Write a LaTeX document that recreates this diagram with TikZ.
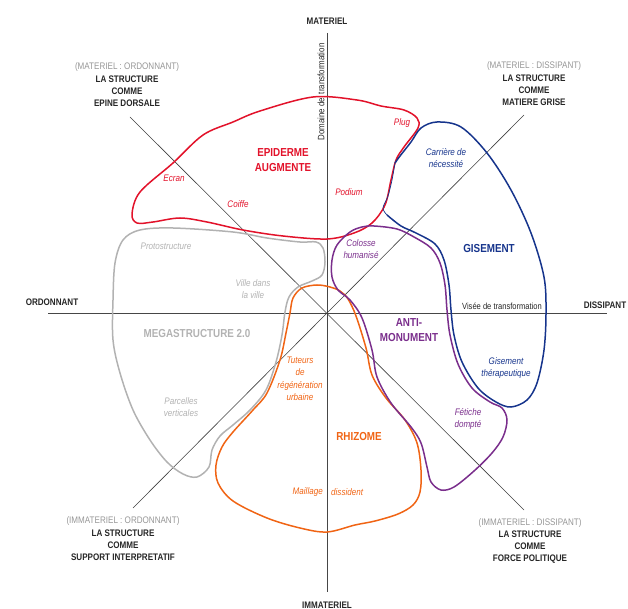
\documentclass[tikz,border=0pt]{standalone}
\usepackage{fontspec}
\setmainfont{Liberation Sans}[FakeStretch=0.85]
\definecolor{cred}{RGB}{226,18,42}
\definecolor{cblue}{RGB}{22,52,140}
\definecolor{cpurple}{RGB}{122,46,140}
\definecolor{corange}{RGB}{240,100,20}
\definecolor{cgray}{RGB}{178,178,178}
\definecolor{ctxtgray}{RGB}{150,150,150}
\definecolor{caxis}{RGB}{70,70,70}
\tikzset{
  axisline/.style={draw=caxis, line width=0.7pt},
  diag/.style={draw=black!75, line width=0.6pt},
  zone/.style={line width=1.5pt},
  axislabel/.style={font=\fontsize{9.5}{11}\selectfont\bfseries, text=black!85, inner sep=0pt},
  corner/.style={align=center, font=\fontsize{9.5}{12.3}\selectfont\bfseries, text=black!85, inner sep=0pt},
  zonelabel/.style={align=center, font=\fontsize{11.6}{14.5}\selectfont\bfseries, inner sep=0pt},
  item/.style={align=center, font=\fontsize{9.5}{12.5}\selectfont\itshape, inner sep=0pt},
  small/.style={font=\fontsize{8.9}{10}\selectfont, text=black!85, inner sep=0pt},
}
\begin{document}
\begin{tikzpicture}[x=1pt,y=-1pt]
\useasboundingbox (0,0) rectangle (628,609);
% axes
\coordinate (O) at (327,313);
\coordinate (N) at (327,33);
\coordinate (S) at (327,592);
\coordinate (W) at (48,313);
\coordinate (E) at (607,313);
\coordinate (NW) at (130,117);
\coordinate (SE) at (524,510);
\coordinate (NE) at (524,115);
\coordinate (SW) at (133,508);
\draw[axisline] (N) -- (S);
\draw[axisline] (W) -- (E);
\draw[diag] (NW) -- (SE);
\draw[diag] (NE) -- (SW);

% gray zone
\draw[zone, cgray] plot[smooth cycle, tension=0.55] coordinates {
(113,300) (115,263) (123,240) (140,230) (173,228) (233,232) (267,238) (300,242)
(316,242) (323,248) (325,262) (322,275) (312,281) (298,287) (289,297) (285,312)
(282,335) (276,362) (266,390) (250,410) (233,425) (220,436) (212,450) (209,467)
(197,477) (183,474) (167,462) (150,440) (133,410) (120,373) (113,340)};

% red zone
\draw[zone, cred] plot[smooth cycle, tension=0.55] coordinates {
(132,214) (140,192) (173,163) (203,135) (233,122) (260,111) (313,97) (357,100)
(381,106) (404,110) (417,118) (418,128) (404,147) (396,160) (391,180) (385,205)
(372,223) (354,233) (327,239) (283,236) (243,230) (207,222) (180,218) (153,222) (137,223)};

% orange zone
\draw[zone, corange] plot[smooth cycle, tension=0.55] coordinates {
(317,285) (330,287) (340,291) (348,299) (356,316) (366,348) (372,375) (386,398)
(405,420) (417,443) (421,470) (420,492) (413,505) (398,514) (375,521) (355,525)
(327,532) (300,528) (267,518) (233,501) (218,483) (216,465) (222,447) (233,432)
(253,410) (267,393) (280,360) (286,333) (290,313) (293,298) (302,288)};

% purple zone
\draw[zone, cpurple] plot[smooth cycle, tension=0.55] coordinates {
(374,226) (397,229) (414,237) (431,248) (440,263) (445,285) (447,310) (450,335)
(458,364) (472,388) (490,402) (502,408) (507,420) (503,437) (492,453) (474,471)
(454,487) (441,490) (431,482) (427,467) (421,443) (411,427) (391,403) (377,377)
(372,350) (362,318) (350,300) (338,290) (332,277) (332,260) (337,245) (350,232) (362,227)};

% blue zone
\draw[cblue, line width=0.7pt] plot[smooth, tension=0.55] coordinates {
(387,215) (383,208) (388,196) (392,180) (395,163)};
\draw[zone, cblue] plot[smooth, tension=0.55] coordinates {
(395,163) (400,156) (411,142) (421,128) (437,122) (461,127) (487,153) (511,190)
(531,233) (544,277) (546,313) (544,350) (537,383) (527,400) (511,407) (496,402)
(478,388) (462,362) (454,335) (451,310) (449,285) (444,260) (435,244) (416,233)
(401,226) (387,215)};

% axis labels
\node[axislabel] (lN) at (327,21) {MATERIEL};
\node[axislabel] (lS) at (327,605) {IMMATERIEL};
\node[axislabel] (lW) at (52,302) {ORDONNANT};
\node[axislabel] (lE) at (605,305) {DISSIPANT};
\node[small, rotate=90, font=\fontsize{9.3}{10}\selectfont] (dom) at (321,92) {Domaine de \,transformation};
\node[small] (vis) at (502,306) {Visée de transformation};

% corner labels
\node[corner] (cNW) at (127,85) {\textcolor{ctxtgray}{\mdseries (MATERIEL : ORDONNANT)}\\LA STRUCTURE\\COMME\\EPINE DORSALE};
\node[corner] (cNE) at (534,84) {\textcolor{ctxtgray}{\mdseries (MATERIEL : DISSIPANT)}\\LA STRUCTURE\\COMME\\MATIERE GRISE};
\node[corner] (cSW) at (123,539) {\textcolor{ctxtgray}{\mdseries (IMMATERIEL : ORDONNANT)}\\LA STRUCTURE\\COMME\\SUPPORT INTERPRETATIF};
\node[corner] (cSE) at (530,541) {\textcolor{ctxtgray}{\mdseries (IMMATERIEL : DISSIPANT)}\\LA STRUCTURE\\COMME\\FORCE POLITIQUE};

% zone labels
\node[zonelabel, text=cred] (zEp) at (283,160) {EPIDERME\\AUGMENTE};
\node[zonelabel, text=cblue] (zGi) at (489,249) {GISEMENT};
\node[zonelabel, text=cpurple] (zAn) at (409,330) {ANTI-\\MONUMENT};
\node[zonelabel, text=cgray] (zMe) at (197,334) {MEGASTRUCTURE 2.0};
\node[zonelabel, text=corange] (zRh) at (359,437) {RHIZOME};

% items
\node[item, text=cred] (iEc) at (174,178) {Ecran};
\node[item, text=cred] (iCo) at (238,204) {Coiffe};
\node[item, text=cred] (iPl) at (402,123) {Plug};
\node[item, text=cred] (iPo) at (349,192) {Podium};
\node[item, text=cblue] (iCa) at (446,158) {Carrière de\\nécessité};
\node[item, text=cblue] (iGt) at (506,368) {Gisement\\thérapeutique};
\node[item, text=cpurple] (iCh) at (361,249) {Colosse\\humanisé};
\node[item, text=cpurple] (iFe) at (468,419) {Fétiche\\dompté};
\node[item, text=cgray] (iPr) at (166,246) {Protostructure};
\node[item, text=cgray] (iVi) at (253,289) {Ville dans\\la ville};
\node[item, text=cgray] (iPa) at (181,407) {Parcelles\\verticales};
\node[item, text=corange] (iTu) at (300,379) {Tuteurs\\de\\régénération\\urbaine};
\node[item, text=corange, anchor=east] (iMa) at (323,492) {Maillage};
\node[item, text=corange, anchor=west] (iDi) at (331,492) {dissident};
\end{tikzpicture}
\end{document}
